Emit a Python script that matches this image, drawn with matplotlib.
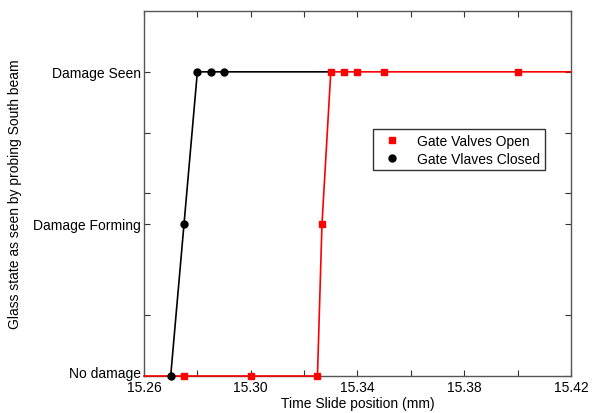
import numpy as np
import matplotlib.pyplot as plt
from matplotlib.lines import Line2D
from matplotlib.transforms import ScaledTranslation

plt.rcParams['font.family'] = ['Liberation Sans', 'DejaVu Sans']

# Estado do vidro: 0 = sem dano, 1 = dano se formando, 2 = dano visto
estados = [0, 1, 2]
rotulos_estado = ["No damage", "Damage Forming", "Damage Seen"]

# Válvulas abertas (quadrados vermelhos)
x_abertas = [15.275, 15.300, 15.325, 15.3267, 15.330, 15.335, 15.340, 15.350, 15.400]
y_abertas = [0, 0, 0, 1, 2, 2, 2, 2, 2]
# linha vermelha estendida até as bordas do eixo
x_linha_abertas = [15.26] + x_abertas + [15.42]
y_linha_abertas = [0] + y_abertas + [2]

# Válvulas fechadas (círculos pretos)
x_fechadas = [15.270, 15.275, 15.280, 15.285, 15.290]
y_fechadas = [0, 1, 2, 2, 2]
x_linha_fechadas = x_fechadas + [15.330]
y_linha_fechadas = y_fechadas + [2]

xticks = np.round(np.arange(15.26, 15.4201, 0.02), 2)
xtick_labels = ["15.26", "", "15.30", "", "15.34", "", "15.38", "", "15.42"]
yticks = [0, 0.4, 1, 1.2, 1.6, 2]
ytick_labels = ["No damage", "", "Damage Forming", "", "", "Damage Seen"]

fig = plt.figure(figsize=(5.98, 4.14), dpi=100)
ax = fig.add_axes([0.2408, 0.0894, 0.7140, 0.8816])

ax.plot(x_linha_fechadas, y_linha_fechadas, color='black', linewidth=1.2, zorder=2, clip_on=False)
ax.plot(x_fechadas, y_fechadas, 'o', color='black', markersize=5, zorder=4, clip_on=False)
ax.plot(x_linha_abertas, y_linha_abertas, color='red', linewidth=1.2, zorder=3, clip_on=False)
ax.plot(x_abertas, y_abertas, 's', color='red', markersize=5, zorder=4, clip_on=False)

ax.set_xlim(15.26, 15.42)
ax.set_ylim(0, 2.4)
ax.set_xticks(xticks)
ax.set_xticklabels(xtick_labels)
ax.set_yticks(yticks)
ax.set_yticklabels(ytick_labels)
ax.tick_params(direction='in', length=4, width=0.8, color='#333333',
               top=True, right=True, labelsize=10, pad=2)
ax.tick_params(axis='x', pad=3)

# "No damage" levemente acima para não encostar no 15.26
rotulo_zero = ax.get_yticklabels()[0]
rotulo_zero.set_transform(rotulo_zero.get_transform() + ScaledTranslation(0, 3 / 72, fig.dpi_scale_trans))

for spine in ax.spines.values():
    spine.set_color('#555555')
    spine.set_linewidth(1.0)

ax.set_xlabel("Time Slide position (mm)", fontsize=10, labelpad=1)
ax.set_ylabel("Glass state as seen by probing South beam", fontsize=10, labelpad=8)

handles = [
    Line2D([], [], linestyle='none', marker='s', color='red', markersize=5, label="Gate Valves Open"),
    Line2D([], [], linestyle='none', marker='o', color='black', markersize=5, label="Gate Vlaves Closed"),
]
leg = ax.legend(handles=handles, loc='upper left', bbox_to_anchor=(0.52, 0.695),
                fontsize=10, fancybox=False, framealpha=1, edgecolor='#333333',
                handletextpad=0.8, borderpad=0.35, labelspacing=0.25)
leg.get_frame().set_linewidth(1.0)

fig.savefig("out.png", dpi=100)
